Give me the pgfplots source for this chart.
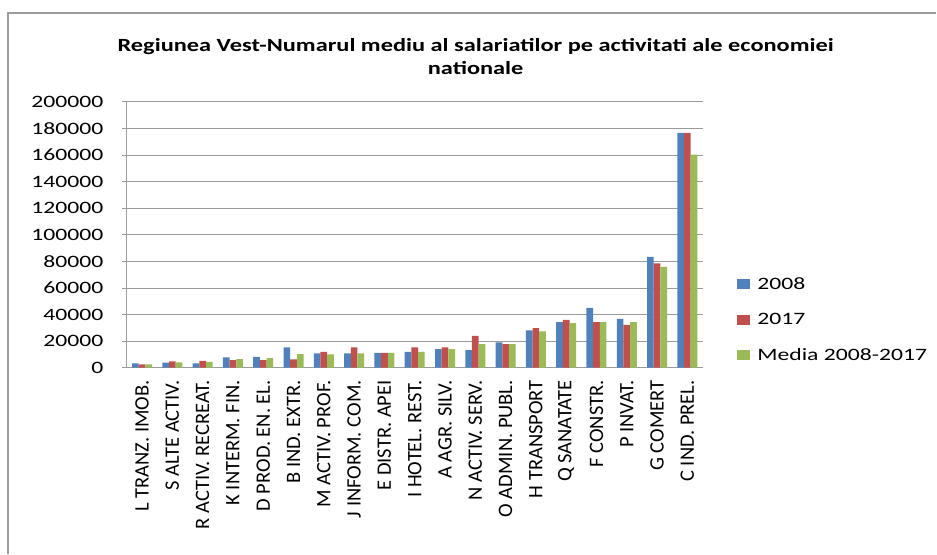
\documentclass[border=0pt]{standalone}
\usepackage{fontspec}
\setmainfont{Carlito}
\newfontfamily\stretchfont[FakeStretch=1.36]{Carlito}
\newfontfamily\titlefont[FakeStretch=1.31]{Carlito}
\usepackage{pgfplots}
\pgfplotsset{compat=1.18}
\definecolor{c1}{HTML}{4F81BD}
\definecolor{c2}{HTML}{C0504D}
\definecolor{c3}{HTML}{9BBB59}
\definecolor{gridc}{RGB}{155,155,155}
\begin{document}
\begin{tikzpicture}[x=1pt,y=1pt]
\path (0,0) rectangle (937,554);
\draw[color=gridc, line width=1.3pt] (8,0) -- (8,541) -- (937,541);
\node[font=\fontsize{18.6}{23}\titlefont\bfseries, align=center] at (476,497.5) {Regiunea Vest-Numarul mediu al salariatilor pe activitati ale economiei\\nationale};
\begin{axis}[
  at={(127pt,186pt)}, anchor=south west,
  scale only axis, width=576pt, height=266pt,
  ybar=0pt, bar width=6.67pt,
  xmin=-0.5, xmax=18.5, ymin=0, ymax=200000,
  xtick={0,...,18},
  xticklabels={L TRANZ. IMOB., S ALTE ACTIV., R ACTIV. RECREAT., K INTERM. FIN., D PROD. EN. EL., B IND. EXTR., M ACTIV. PROF., J INFORM. COM., E DISTR. APEI, I HOTEL. REST., A AGR. SILV., N ACTIV. SERV., O ADMIN. PUBL., H TRANSPORT, Q SANATATE, F CONSTR., P INVAT., G COMERT, C IND. PREL.},
  xticklabel style={yshift=-4pt, rotate=90, anchor=east, font=\fontsize{20.5}{22}\selectfont},
  xtick style={draw=none},
  ytick={0,20000,...,200000},
  scaled y ticks=false,
  yticklabel style={font=\fontsize{17.4}{20}\stretchfont, xshift=-15pt, /pgf/number format/fixed, /pgf/number format/1000 sep={}, /pgf/number format/assume math mode=true},
  axis lines*=left,
  axis line style={gridc, line width=1pt},
  ytick style={gridc, line width=1pt},
  tick align=outside, major tick length=5pt,
  ymajorgrids, grid style={gridc, line width=1pt},
  legend style={at={(1.055,0.18)}, anchor=west, draw=none, fill=none, font=\fontsize{17.4}{20}\stretchfont, row sep=18.5pt},
  legend cell align=left,
]
\addplot[fill=c1, draw=none, legend image code/.code={\fill[c1] (0pt,-5pt) rectangle (13pt,5pt); \path (0pt,0pt) -- (18pt,0pt);}] coordinates {
(0,3260) (1,3760) (2,3260) (3,7770) (4,8270) (5,15290) (6,10780) (7,10780) (8,11280) (9,12030)
(10,14030) (11,13280) (12,19050) (13,28070) (14,34330) (15,45110) (16,36840) (17,83450) (18,176670)};
\addplot[fill=c2, draw=none, legend image code/.code={\fill[c2] (0pt,-5pt) rectangle (13pt,5pt); \path (0pt,0pt) -- (18pt,0pt);}] coordinates {
(0,2500) (1,4760) (2,5260) (3,5760) (4,5760) (5,6265) (6,12030) (7,15290) (8,11280) (9,15290)
(10,15290) (11,24060) (12,17790) (13,29820) (14,36090) (15,34330) (16,32330) (17,78440) (18,176670)};
\addplot[fill=c3, draw=none, legend image code/.code={\fill[c3] (0pt,-5pt) rectangle (13pt,5pt); \path (0pt,0pt) -- (18pt,0pt);}] coordinates {
(0,2500) (1,4000) (2,4500) (3,6500) (4,7270) (5,10270) (6,10020) (7,10780) (8,11280) (9,12030)
(10,14030) (11,17790) (12,17790) (13,27320) (14,33580) (15,34330) (16,34330) (17,75930) (18,160380)};
\legend{2008, 2017, Media 2008-2017}
\end{axis}
\end{tikzpicture}
\end{document}
